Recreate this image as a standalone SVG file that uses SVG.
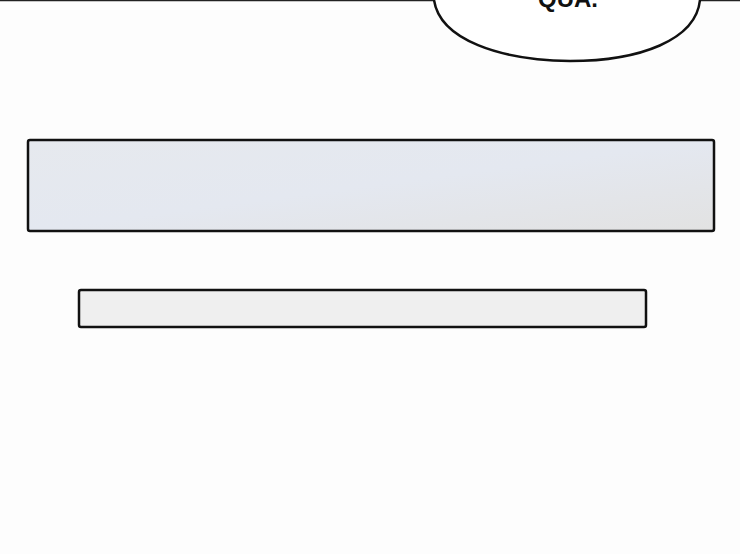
<svg xmlns="http://www.w3.org/2000/svg" width="740" height="554" viewBox="0 0 740 554">
<defs>
<linearGradient id="g1" x1="0" y1="0" x2="1" y2="1"><stop offset="0" stop-color="#e6e9ee"/><stop offset="0.5" stop-color="#e4e8f0"/><stop offset="1" stop-color="#e2e2e2"/></linearGradient>
<style>.b{stroke:#111;stroke-width:2.5}</style>
</defs>
<rect width="740" height="554" fill="#fdfdfd"/>
<line x1="0" y1="0.5" x2="740" y2="0.5" stroke="#222" stroke-width="1.5"/>
<g id="bubble">
<path d="M434,0 C440,40 500,60 570,61 C640,61 696,40 700,0" fill="#fff" class="b"/>
<text x="568" y="7" font-family="Liberation Sans, sans-serif" font-weight="bold" font-size="24" fill="#111" text-anchor="middle">QUA.</text>
</g>
<g id="box1"><rect x="28" y="140" width="686" height="91" rx="2" fill="url(#g1)" class="b"/></g>
<g id="box2"><rect x="79" y="290" width="567" height="37" rx="2" fill="#efefef" class="b"/></g>
</svg>
